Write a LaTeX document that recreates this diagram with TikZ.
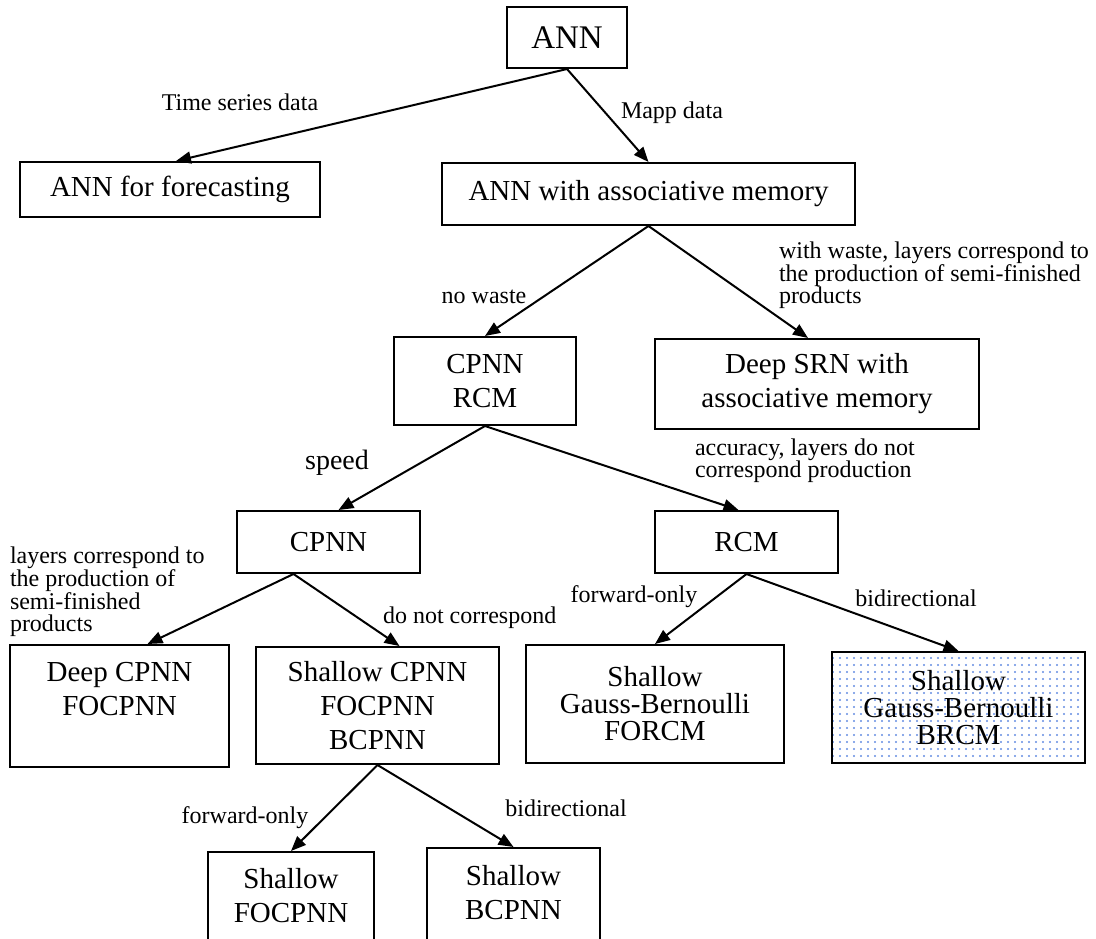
\documentclass[tikz,border=0pt]{standalone}
\usepackage{fontspec}
\setmainfont{Liberation Serif}
\usetikzlibrary{arrows.meta, patterns.meta}
\definecolor{dotblue}{RGB}{100,140,225}

\begin{document}
\begin{tikzpicture}[
  x = 1pt, y = -1pt,                        % one unit per pixel, y grows down
  > = {Triangle[length=15pt, width=12pt]},  % arrow head style
  line width = 2pt                          % thick boxes and arrows
  ]

  \tikzstyle{B1}=[      % Defines style for Box
  draw,
  rectangle,
  inner sep = 0pt,
  align = center,
  font = \fontsize{29}{34}\selectfont
  ]

  \tikzstyle{B2}=[      % Box with tighter lines
  B1,
  font = \fontsize{29}{27}\selectfont
  ]

  \tikzstyle{L1}=[      % Defines style for Label
  inner sep = 0pt,
  align = left,
  font = \fontsize{24}{22}\selectfont
  ]

  \useasboundingbox (0,0) rectangle (1096,938);

  % Definition of the boxes
  \node[B1, minimum width=120pt, minimum height=61pt,
        font=\fontsize{33}{36}\selectfont] (ann) at (567,37.5) {ANN};

  \node[B1, minimum width=300pt, minimum height=55pt] (fc) at (170,189.5) {ANN for forecasting};
  \node[B1, minimum width=413pt, minimum height=62pt] (am) at (648.5,194) {ANN with associative memory};

  \node[B1, minimum width=182pt, minimum height=88pt] (cr) at (485,381) {CPNN\\RCM};
  \node[B1, minimum width=324pt, minimum height=90pt] (srn) at (817,384) {Deep SRN with\\associative memory};

  \node[B1, minimum width=183pt, minimum height=62pt] (cpnn) at (328.5,542) {CPNN};
  \node[B1, minimum width=183pt, minimum height=62pt] (rcm) at (746.5,542) {RCM};

  \node[B1, minimum width=219pt, minimum height=122pt] (dcpnn) at (119.5,706) {Deep CPNN\\FOCPNN\\\mbox{}};
  \node[B1, minimum width=243pt, minimum height=117pt] (scpnn) at (377.5,705.5) {Shallow CPNN\\FOCPNN\\BCPNN};
  \node[B2, minimum width=258pt, minimum height=118pt] (forcm) at (655,704) {Shallow\\Gauss-Bernoulli\\FORCM};
  \node[B2, minimum width=253pt, minimum height=111pt,
        pattern={Dots[distance=7pt, radius=1.2pt]}, pattern color=dotblue] (brcm) at (958.5,707.5) {Shallow\\Gauss-Bernoulli\\BRCM};

  % the last row runs off the bottom of the page
  \node[B1, minimum width=166pt, minimum height=120pt] (focpnn) at (291,912) {Shallow\\FOCPNN\\\mbox{}};
  \node[B1, minimum width=173pt, minimum height=122pt] (bcpnn) at (513.5,909) {Shallow\\BCPNN\\\mbox{}};

  % Labels of the branches
  \node[L1] (tsd) at (240,102) {Time series data};
  \node[L1, anchor=west] (mapp) at (620,113) {Mapp data};
  \node[L1] (nw) at (484,297) {no waste};
  \node[L1, anchor=west] (ww) at (778,275) {with waste, layers correspond to\\the production of semi-finished\\products};
  \node[L1, font=\fontsize{28}{30}\selectfont] (spd) at (337,463) {speed};
  \node[L1, anchor=west] (acc) at (694,461) {accuracy, layers do not\\correspond production};
  \node[L1, anchor=west] (lc) at (9,591.5) {layers correspond to\\the production of\\semi-finished\\products};
  \node[L1, anchor=west] (dnc) at (382,618) {do not correspond};
  \node[L1] (fo1) at (634,597) {forward-only};
  \node[L1] (bd1) at (916,598) {bidirectional};
  \node[L1] (fo2) at (245,818) {forward-only};
  \node[L1] (bd2) at (566,808) {bidirectional};

  % Arrows
  \path[->] (ann.south) edge ([xshift=6pt]fc.north);
  \path[->] (ann.south) edge (am.north);
  \path[->] (am.south) edge (cr.north);
  \path[->] (am.south) edge ([xshift=-9pt]srn.north);
  \path[->] (cr.south) edge ([xshift=10pt]cpnn.north);
  \path[->] (cr.south) edge ([xshift=-8pt]rcm.north);
  \path[->] ([xshift=-35pt]cpnn.south) edge ([xshift=28pt]dcpnn.north);
  \path[->] ([xshift=-35pt]cpnn.south) edge ([xshift=22pt]scpnn.north);
  \path[->] (rcm.south) edge (forcm.north);
  \path[->] (rcm.south) edge (brcm.north);
  \path[->] (scpnn.south) edge (focpnn.north);
  \path[->] (scpnn.south) edge (bcpnn.north);
\end{tikzpicture}
\end{document}
